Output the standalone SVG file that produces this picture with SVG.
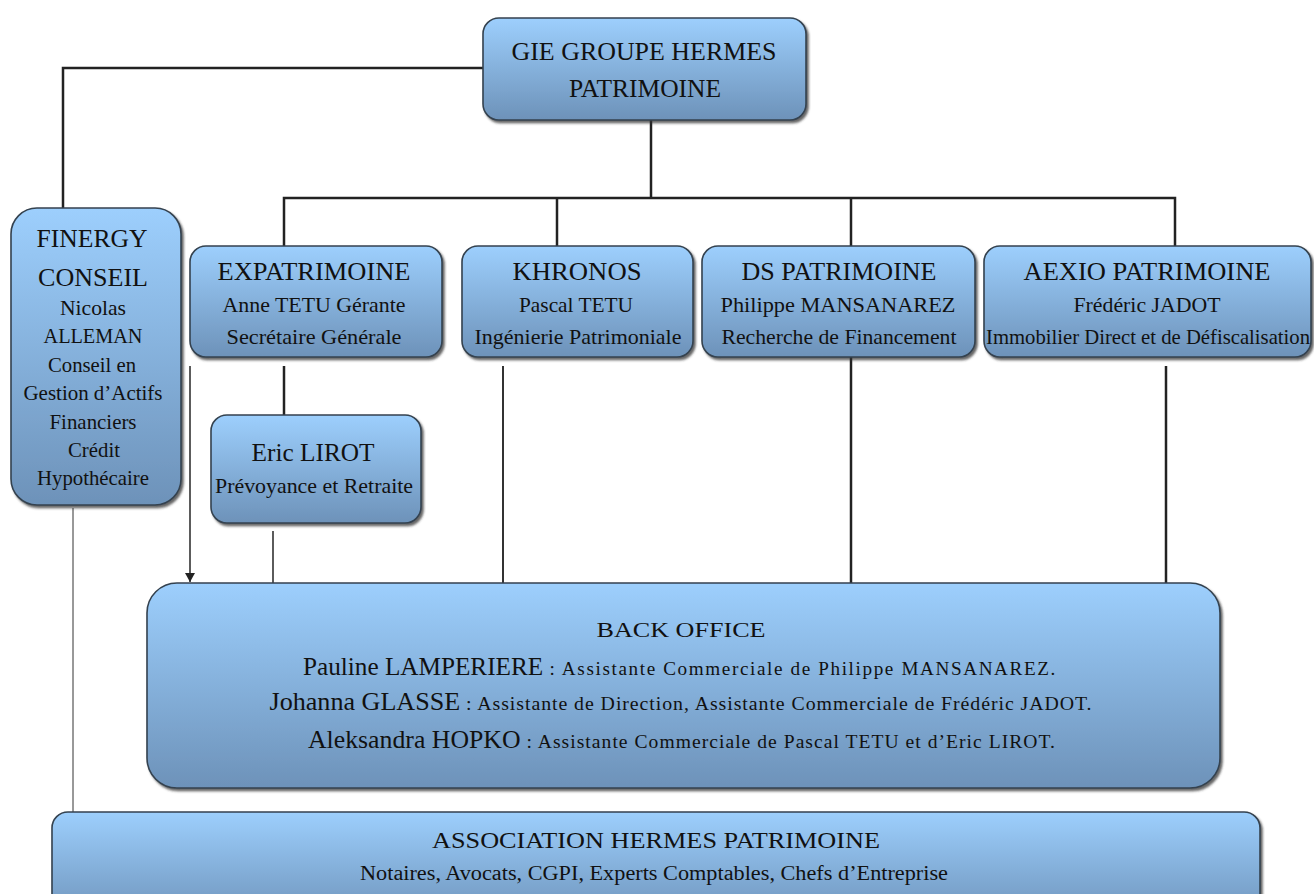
<svg xmlns="http://www.w3.org/2000/svg" width="1314" height="894" viewBox="0 0 1314 894">
<style>
.box{fill:url(#g);stroke:#34424f;stroke-width:1.6;filter:url(#sh)}
text{font-family:"Liberation Serif","Times New Roman",serif;fill:#111;text-anchor:middle}
.t{font-size:25px}
.s{font-size:21px}
.c{fill:none;stroke:#222;stroke-width:2.5}
.th{fill:none;stroke:#333;stroke-width:1.6}
</style>
<defs>
<linearGradient id="g" x1="0" y1="0" x2="0" y2="1">
<stop offset="0" stop-color="#9dcffd"/>
<stop offset="1" stop-color="#6d92b9"/>
</linearGradient>
<filter id="sh" x="-5%" y="-5%" width="110%" height="115%">
<feDropShadow dx="2" dy="2.5" stdDeviation="1" flood-color="#333" flood-opacity="0.75"/>
</filter>
<marker id="arr" markerWidth="10" markerHeight="10" refX="9" refY="5" orient="auto" markerUnits="userSpaceOnUse">
<path d="M0,0 L9,5 L0,10 Z" fill="#222"/>
</marker>
</defs>
<g id="connectors">
<path class="c" d="M483,68 H63 V208"/>
<path class="c" d="M651,120 V198"/>
<path class="c" d="M284,246 V198 H1175 V246"/>
<path class="c" d="M557,198 V246"/>
<path class="c" d="M851,198 V246"/>
<path class="c" d="M284,366 V415"/>
<path class="th" d="M273,531 V583"/>
<path class="th" style="stroke-width:2" d="M503,366 V583"/>
<path class="c" d="M851,357 V583"/>
<path class="c" d="M1166,366 V583"/>
<path class="th" d="M190,366 V582" marker-end="url(#arr)"/>
<path class="th" style="stroke-width:1" d="M73,508 V812"/>
</g>
<g id="gie">
<rect class="box" x="483" y="18" width="323" height="102" rx="16"/>
<text class="t" x="644" y="60" font-size="26" textLength="265" lengthAdjust="spacingAndGlyphs">GIE GROUPE HERMES</text>
<text class="t" x="645" y="97" textLength="152" lengthAdjust="spacingAndGlyphs">PATRIMOINE</text>
</g>
<g id="finergy">
<rect class="box" x="11" y="208" width="170" height="297" rx="26"/>
<text class="t" x="92" y="247" textLength="111" lengthAdjust="spacingAndGlyphs">FINERGY</text>
<text class="t" x="93" y="286" textLength="110" lengthAdjust="spacingAndGlyphs">CONSEIL</text>
<text class="s" x="93" y="315" textLength="66" lengthAdjust="spacingAndGlyphs">Nicolas</text>
<text class="s" x="93" y="343" textLength="99" lengthAdjust="spacingAndGlyphs">ALLEMAN</text>
<text class="s" x="92" y="372" textLength="88" lengthAdjust="spacingAndGlyphs">Conseil en</text>
<text class="s" x="93" y="400" textLength="139" lengthAdjust="spacingAndGlyphs">Gestion d’Actifs</text>
<text class="s" x="93" y="429" textLength="87" lengthAdjust="spacingAndGlyphs">Financiers</text>
<text class="s" x="94" y="457" textLength="52" lengthAdjust="spacingAndGlyphs">Crédit</text>
<text class="s" x="93" y="485" textLength="112" lengthAdjust="spacingAndGlyphs">Hypothécaire</text>
</g>
<g id="expatrimoine">
<rect class="box" x="190" y="246" width="252" height="111" rx="16"/>
<text class="t" x="314" y="280" textLength="193" lengthAdjust="spacingAndGlyphs">EXPATRIMOINE</text>
<text class="s" x="314" y="312" textLength="183" lengthAdjust="spacingAndGlyphs">Anne TETU Gérante</text>
<text class="s" x="314" y="344" textLength="175" lengthAdjust="spacingAndGlyphs">Secrétaire Générale</text>
</g>
<g id="khronos">
<rect class="box" x="462" y="246" width="231" height="111" rx="16"/>
<text class="t" x="577" y="280" textLength="129" lengthAdjust="spacingAndGlyphs">KHRONOS</text>
<text class="s" x="576" y="312" textLength="114" lengthAdjust="spacingAndGlyphs">Pascal TETU</text>
<text class="s" x="578" y="344" textLength="207" lengthAdjust="spacingAndGlyphs">Ingénierie Patrimoniale</text>
</g>
<g id="ds-patrimoine">
<rect class="box" x="702" y="246" width="273" height="111" rx="16"/>
<text class="t" x="839" y="280" textLength="195" lengthAdjust="spacingAndGlyphs">DS PATRIMOINE</text>
<text class="s" x="838" y="312" textLength="235" lengthAdjust="spacingAndGlyphs">Philippe MANSANAREZ</text>
<text class="s" x="839" y="344" textLength="235" lengthAdjust="spacingAndGlyphs">Recherche de Financement</text>
</g>
<g id="aexio-patrimoine">
<rect class="box" x="984" y="246" width="327" height="111" rx="16"/>
<text class="t" x="1147" y="280" textLength="247" lengthAdjust="spacingAndGlyphs">AEXIO PATRIMOINE</text>
<text class="s" x="1147" y="312" textLength="147" lengthAdjust="spacingAndGlyphs">Frédéric JADOT</text>
<text class="s" x="1148" y="344" textLength="324" lengthAdjust="spacingAndGlyphs">Immobilier Direct et de Défiscalisation</text>
</g>
<g id="eric-lirot">
<rect class="box" x="211" y="415" width="210" height="108" rx="16"/>
<text class="t" x="313" y="461" textLength="123" lengthAdjust="spacingAndGlyphs">Eric LIROT</text>
<text class="s" x="314" y="493" textLength="198" lengthAdjust="spacingAndGlyphs">Prévoyance et Retraite</text>
</g>
<g id="back-office">
<rect class="box" x="147" y="583" width="1073" height="205" rx="30"/>
<text x="681" y="637" font-size="22" textLength="169" lengthAdjust="spacingAndGlyphs">BACK OFFICE</text>
<text x="680" y="675" textLength="754" lengthAdjust="spacingAndGlyphs"><tspan font-size="25">Pauline LAMPERIERE</tspan><tspan font-size="19" letter-spacing="1.6"> : Assistante Commerciale de Philippe MANSANAREZ.</tspan></text>
<text x="681" y="710" textLength="823" lengthAdjust="spacingAndGlyphs"><tspan font-size="25">Johanna GLASSE</tspan><tspan font-size="19" letter-spacing="0.9"> : Assistante de Direction, Assistante Commerciale de Frédéric JADOT.</tspan></text>
<text x="682" y="748" textLength="748" lengthAdjust="spacingAndGlyphs"><tspan font-size="25">Aleksandra HOPKO</tspan><tspan font-size="19" letter-spacing="1"> : Assistante Commerciale de Pascal TETU et d’Eric LIROT.</tspan></text>
</g>
<g id="association">
<rect class="box" x="52" y="812" width="1208" height="110" rx="16"/>
<text x="656" y="848" font-size="23" textLength="448" lengthAdjust="spacingAndGlyphs">ASSOCIATION HERMES PATRIMOINE</text>
<text x="654" y="880" font-size="20" textLength="588" lengthAdjust="spacingAndGlyphs">Notaires, Avocats, CGPI, Experts Comptables, Chefs d’Entreprise</text>
</g>
</svg>
